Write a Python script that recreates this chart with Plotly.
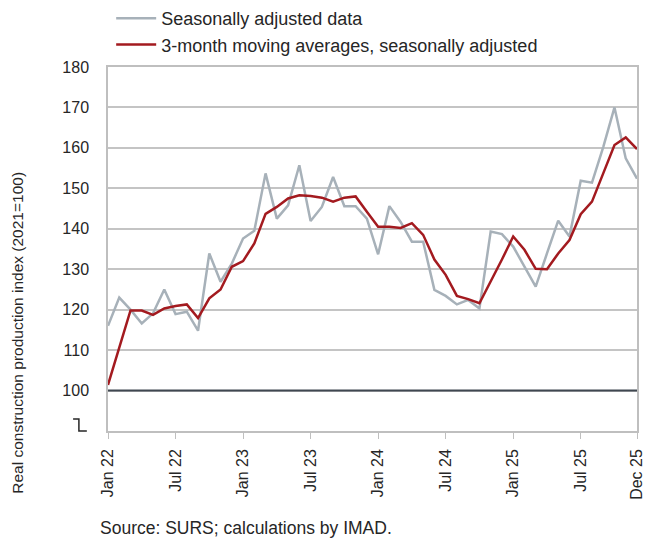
import plotly.graph_objects as go

months = ["Jan", "Feb", "Mar", "Apr", "May", "Jun", "Jul", "Aug", "Sep", "Oct", "Nov", "Dec"]
years = ["22", "23", "24", "25"]
categories = [f"{m} {y}" for y in years for m in months]

seasonally_adjusted = [
    116.0, 123.0, 120.0, 116.6, 119.1, 125.0, 118.9, 119.5, 114.8, 133.9, 126.9, 131.4,
    137.6, 139.5, 153.7, 142.5, 145.8, 155.7, 141.9, 145.4, 152.8, 145.6, 145.6, 142.5,
    133.7, 145.6, 141.7, 136.8, 136.8, 124.9, 123.4, 121.3, 122.4, 120.3, 139.3, 138.7,
    135.6, 130.6, 125.7, 133.9, 142.0, 138.1, 151.9, 151.4, 160.2, 170.0, 157.4, 152.4,
]
moving_avg = [
    101.4, 110.9, 119.8, 119.8, 118.7, 120.3, 120.9, 121.3, 117.9, 122.8, 125.0, 130.6,
    132.0, 136.4, 143.7, 145.4, 147.5, 148.3, 148.1, 147.7, 146.7, 147.7, 148.0, 144.2,
    140.5, 140.5, 140.2, 141.4, 138.5, 132.4, 128.6, 123.4, 122.6, 121.6, 126.9, 132.4,
    138.1, 134.8, 130.1, 130.0, 133.9, 137.2, 143.6, 146.7, 153.7, 160.7, 162.6, 159.7,
]
tick_labels = ["Jan 22", "Jul 22", "Jan 23", "Jul 23", "Jan 24", "Jul 24", "Jan 25", "Jul 25", "Dec 25"]
y_ticks = [100, 110, 120, 130, 140, 150, 160, 170, 180]

FONT = "Liberation Sans"
TXT = "#262626"

fig = go.Figure()
fig.add_trace(go.Scatter(x=categories, y=seasonally_adjusted, mode="lines",
                         name="Seasonally adjusted data",
                         line=dict(color="#a7b1b9", width=2.5)))
fig.add_trace(go.Scatter(x=categories, y=moving_avg, mode="lines",
                         name="3-month moving averages, seasonally adjusted",
                         line=dict(color="#a31a1f", width=2.5)))

fig.add_hline(y=100, line=dict(color="#3f4750", width=2), layer="above")

# axis break symbol
fig.add_shape(type="path", xref="paper", yref="paper",
              path="M -0.066 0.033 L -0.055 0.033 L -0.055 0.0 L -0.040 0.0",
              line=dict(color="#262626", width=1.5))

fig.update_layout(
    width=645, height=541,
    margin=dict(l=108, r=8, t=67, b=110, autoexpand=False),
    paper_bgcolor="white", plot_bgcolor="white",
    font=dict(family=FONT, size=16, color=TXT),
    showlegend=True,
    legend=dict(x=0.006, y=1.0, xref="paper", yref="container", xanchor="left", yanchor="top",
                bgcolor="rgba(0,0,0,0)", font=dict(size=18, color=TXT),
                tracegroupgap=0, itemwidth=40),
    xaxis=dict(type="category", range=[0, 47], tickmode="array",
               tickvals=tick_labels, ticktext=tick_labels, tickangle=-90,
               ticks="outside", ticklen=6, tickcolor="#bfbfbf",
               showline=True, linecolor="#bfbfbf", linewidth=1.5, mirror=True,
               showgrid=False, ticklabelstandoff=4, tickfont=dict(size=16, color=TXT)),
    yaxis=dict(range=[90, 180], tickvals=y_ticks, showgrid=True,
               gridcolor="#c4c4c4", gridwidth=1.5, zeroline=False,
               showline=True, linecolor="#bfbfbf", linewidth=1.5, mirror=True,
               ticks="", ticklabelstandoff=14, tickfont=dict(size=16, color=TXT)),
    annotations=[
        dict(text="Real construction production index (2021=100)", xref="paper", yref="paper",
             x=-0.17, y=0.27, xanchor="center", yanchor="middle", textangle=-90,
             showarrow=False, font=dict(size=15.5, color=TXT)),
        dict(text="Source: SURS; calculations by IMAD.", xref="paper", yref="paper",
             x=-0.019, y=-0.266, xanchor="left", yanchor="middle",
             showarrow=False, font=dict(size=17.5, color=TXT)),
    ],
)

fig.write_html("out.html")
